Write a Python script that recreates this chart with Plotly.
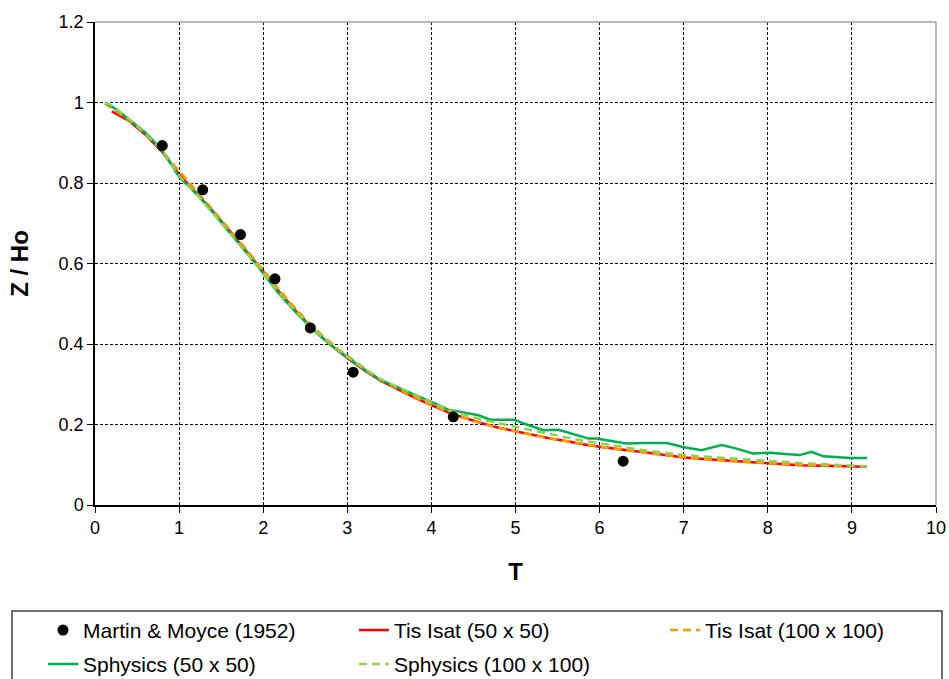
import plotly.graph_objects as go

# ---------------- data ----------------
mm_T = [0.80, 1.28, 1.73, 2.14, 2.56, 3.07, 4.26, 6.28]
mm_Z = [0.893, 0.783, 0.672, 0.562, 0.440, 0.330, 0.219, 0.109]

tis50_T = [0.2, 0.4, 0.6, 0.8, 1.0, 1.2, 1.4, 1.6, 1.8, 2.0, 2.2, 2.4, 2.6, 2.8, 3.0,
           3.2, 3.4, 3.6, 3.8, 4.0, 4.2, 4.4, 4.6, 4.8, 5.0, 5.2, 5.4, 5.6, 5.8, 6.0,
           6.2, 6.4, 6.6, 6.8, 7.0, 7.2, 7.4, 7.6, 7.8, 8.0, 8.2, 8.4, 8.6, 8.8, 9.0, 9.18]
tis50_Z = [0.978, 0.955, 0.920, 0.877, 0.822, 0.776, 0.730, 0.681, 0.631, 0.580, 0.527,
           0.480, 0.436, 0.398, 0.365, 0.335, 0.308, 0.287, 0.267, 0.248, 0.230, 0.216,
           0.203, 0.192, 0.183, 0.174, 0.166, 0.159, 0.151, 0.145, 0.139, 0.134, 0.129,
           0.123, 0.118, 0.115, 0.112, 0.109, 0.106, 0.103, 0.101, 0.099, 0.098, 0.097,
           0.096, 0.095]

tis100_T = [0.12, 0.3, 0.5, 0.7, 0.9, 1.1, 1.3, 1.5, 1.7, 1.9, 2.1, 2.3, 2.5, 2.7, 2.9,
            3.1, 3.3, 3.5, 3.7, 3.9, 4.1, 4.3, 4.5, 4.7, 4.9, 5.1, 5.3, 5.5, 5.7, 5.9,
            6.1, 6.3, 6.5, 6.7, 6.9, 7.1, 7.3, 7.5, 7.7, 7.9, 8.1, 8.3, 8.5, 8.7, 8.9, 9.18]
tis100_Z = [0.998, 0.972, 0.941, 0.903, 0.855, 0.806, 0.757, 0.709, 0.660, 0.610, 0.558,
            0.508, 0.462, 0.422, 0.386, 0.355, 0.325, 0.299, 0.278, 0.258, 0.240, 0.223,
            0.209, 0.197, 0.187, 0.178, 0.170, 0.162, 0.155, 0.148, 0.142, 0.137, 0.131,
            0.126, 0.121, 0.117, 0.113, 0.110, 0.107, 0.105, 0.102, 0.100, 0.099, 0.098,
            0.097, 0.096]

sph50_T = [0.12, 0.2, 0.3, 0.4, 0.5, 0.6, 0.73, 0.85, 1.0, 1.15, 1.3, 1.5, 1.7, 1.9,
           2.1, 2.2, 2.4, 2.6, 2.8, 3.0, 3.2, 3.4, 3.6, 3.8, 4.0, 4.2, 4.4, 4.56, 4.70,
           4.99, 5.09, 5.33, 5.51, 5.69, 5.87, 5.96, 6.16, 6.32, 6.52, 6.80, 6.99, 7.21,
           7.45, 7.63, 7.82, 8.03, 8.20, 8.38, 8.52, 8.66, 8.80, 8.98, 9.18]
sph50_Z = [0.998, 0.990, 0.975, 0.958, 0.943, 0.925, 0.897, 0.865, 0.815, 0.785, 0.752,
           0.703, 0.652, 0.602, 0.549, 0.522, 0.476, 0.434, 0.398, 0.367, 0.337, 0.310,
           0.292, 0.275, 0.256, 0.237, 0.229, 0.223, 0.212, 0.212, 0.203, 0.186, 0.187,
           0.176, 0.165, 0.165, 0.159, 0.153, 0.154, 0.154, 0.144, 0.136, 0.149, 0.140,
           0.128, 0.130, 0.127, 0.124, 0.132, 0.121, 0.119, 0.117, 0.117]

sph100_T = [0.12, 0.2, 0.4, 0.6, 0.8, 1.0, 1.2, 1.4, 1.6, 1.8, 2.0, 2.2, 2.4, 2.6, 2.8,
            3.0, 3.2, 3.4, 3.6, 3.8, 4.0, 4.2, 4.4, 4.6, 4.8, 5.0, 5.2, 5.4, 5.6, 5.8,
            6.0, 6.2, 6.4, 6.6, 6.8, 7.0, 7.2, 7.4, 7.6, 7.8, 8.0, 8.2, 8.4, 8.6, 8.8,
            9.0, 9.18]
sph100_Z = [1.000, 0.992, 0.960, 0.922, 0.880, 0.818, 0.774, 0.726, 0.677, 0.627, 0.577,
            0.524, 0.478, 0.436, 0.400, 0.368, 0.338, 0.312, 0.293, 0.274, 0.254, 0.236,
            0.224, 0.212, 0.203, 0.194, 0.185, 0.177, 0.168, 0.160, 0.153, 0.147, 0.140,
            0.134, 0.129, 0.124, 0.121, 0.118, 0.115, 0.112, 0.109, 0.107, 0.104, 0.102,
            0.100, 0.097, 0.096]

x_ticks = [0, 1, 2, 3, 4, 5, 6, 7, 8, 9, 10]
y_ticks = [0, 0.2, 0.4, 0.6, 0.8, 1.0, 1.2]

# ---------------- figure ----------------
FONT = "Arial, 'Liberation Sans', sans-serif"
fig = go.Figure()

fig.add_trace(go.Scatter(x=tis50_T, y=tis50_Z, mode="lines", name="Tis Isat (50 x 50)",
                         line=dict(color="#FF0000", width=2.5), legend="legend2"))
fig.add_trace(go.Scatter(x=tis100_T, y=tis100_Z, mode="lines", name="Tis Isat (100 x 100)",
                         line=dict(color="#FF9900", width=2.5, dash="8px,5px"), legend="legend3"))
fig.add_trace(go.Scatter(x=sph50_T, y=sph50_Z, mode="lines", name="Sphysics (50 x 50)",
                         line=dict(color="#00B050", width=2.5), legend="legend4"))
fig.add_trace(go.Scatter(x=sph100_T, y=sph100_Z, mode="lines", name="Sphysics (100 x 100)",
                         line=dict(color="#92D050", width=2.5, dash="8px,5px"), legend="legend5"))
fig.add_trace(go.Scatter(x=mm_T, y=mm_Z, mode="markers", name="Martin & Moyce (1952)",
                         marker=dict(color="black", size=11), legend="legend"))

# plot area: left 95, right 936, top 21.5, bottom 505  (width 841, height 483.5)
PW, PH = 841.0, 483.5
def px(xp):
    return (xp - 95) / PW
def py(yp):
    return (505 - yp) / PH

leg_common = dict(bgcolor="rgba(0,0,0,0)", borderwidth=0, xanchor="left", yanchor="top",
                  font=dict(family=FONT, size=21, color="black"))
row1, row2 = 610, 644
col1, col2, col3 = 43, 354, 665
fig.update_layout(
    legend=dict(x=px(col1), y=py(row1), **leg_common),
    legend2=dict(x=px(col2), y=py(row1), **leg_common),
    legend3=dict(x=px(col3), y=py(row1), **leg_common),
    legend4=dict(x=px(col1), y=py(row2), **leg_common),
    legend5=dict(x=px(col2), y=py(row2), **leg_common),
)

axis_common = dict(showline=True, linecolor="black", linewidth=1.5, ticks="outside",
                   ticklen=6, tickcolor="black", tickwidth=1, showgrid=True,
                   gridcolor="black", gridwidth=1, griddash="3px,2px", zeroline=False,
                   tickfont=dict(family=FONT, size=18, color="black"))
fig.update_xaxes(range=[0, 10], tickvals=x_ticks,
                 title=dict(text="<b>T</b>", font=dict(family=FONT, size=24, color="black"),
                            standoff=26), **axis_common)
fig.update_yaxes(range=[0, 1.2], tickvals=y_ticks, ticktext=[f"{v:g}" for v in y_ticks],
                 title=dict(text="<b>Z / Ho</b>", font=dict(family=FONT, size=24, color="black"),
                            standoff=23), **axis_common)

fig.update_layout(
    width=949, height=679,
    margin=dict(l=95, r=13, t=21.5, b=174, autoexpand=False),
    paper_bgcolor="white", plot_bgcolor="white",
    showlegend=True,
    shapes=[
        # gray top & right plot border
        dict(type="line", xref="paper", yref="paper", x0=0, x1=1, y0=1, y1=1,
             line=dict(color="#A0A0A0", width=1.5), layer="above"),
        dict(type="line", xref="paper", yref="paper", x0=1, x1=1, y0=0, y1=1,
             line=dict(color="#A0A0A0", width=1.5), layer="above"),
        # legend box
        dict(type="rect", xref="paper", yref="paper", x0=px(12), x1=px(942),
             y0=py(720), y1=py(611), line=dict(color="#404040", width=1.5),
             fillcolor="rgba(0,0,0,0)", layer="above"),
    ],
)

fig.write_html("out.html")
